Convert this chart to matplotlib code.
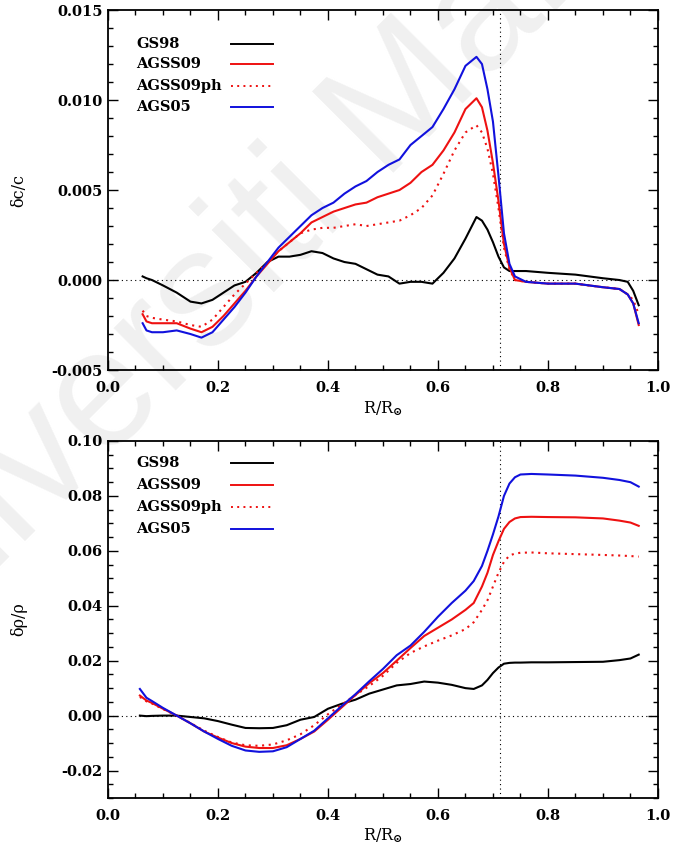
import matplotlib
matplotlib.use('Agg')
import matplotlib.pyplot as plt
from matplotlib.ticker import MultipleLocator

plt.rcParams['font.family'] = 'DejaVu Serif'
plt.rcParams['font.weight'] = 'bold'
plt.rcParams['mathtext.fontset'] = 'dejavuserif'

# sound speed differences, delta c / c
r_c = [0.063, 0.07, 0.08, 0.10, 0.125, 0.15, 0.17, 0.19, 0.21, 0.23, 0.25, 0.27,
       0.29, 0.31, 0.33, 0.35, 0.37, 0.39, 0.41, 0.43, 0.45, 0.47, 0.49, 0.51,
       0.53, 0.55, 0.57, 0.59, 0.61, 0.63, 0.65, 0.67, 0.68, 0.69, 0.70, 0.71,
       0.72, 0.73, 0.74, 0.76, 0.80, 0.85, 0.90, 0.93, 0.945, 0.955, 0.965]
dc_gs98 = [0.0002, 0.0001, 0.0000, -0.0003, -0.0007, -0.0012, -0.0013, -0.0011,
           -0.0007, -0.0003, -0.0001, 0.0004, 0.0010, 0.0013, 0.0013, 0.0014,
           0.0016, 0.0015, 0.0012, 0.0010, 0.0009, 0.0006, 0.0003, 0.0002,
           -0.0002, -0.0001, -0.0001, -0.0002, 0.0004, 0.0012, 0.0023, 0.0035,
           0.0033, 0.0028, 0.0021, 0.0013, 0.0007, 0.0005, 0.0005, 0.0005,
           0.0004, 0.0003, 0.0001, 0.0000, -0.0001, -0.0006, -0.0014]
dc_agss09 = [-0.0019, -0.0023, -0.0024, -0.0024, -0.0024, -0.0027, -0.0029, -0.0026,
             -0.0020, -0.0013, -0.0006, 0.0002, 0.0009, 0.0016, 0.0021, 0.0026,
             0.0032, 0.0035, 0.0038, 0.0040, 0.0042, 0.0043, 0.0046, 0.0048,
             0.0050, 0.0054, 0.0060, 0.0064, 0.0072, 0.0082, 0.0095, 0.0101,
             0.0096, 0.0083, 0.0065, 0.0044, 0.0020, 0.0007, 0.0000, -0.0001,
             -0.0002, -0.0002, -0.0004, -0.0005, -0.0008, -0.0013, -0.0025]
dc_agss09ph = [-0.0017, -0.0020, -0.0021, -0.0022, -0.0023, -0.0025, -0.0026, -0.0022,
               -0.0015, -0.0008, -0.0002, 0.0004, 0.0010, 0.0016, 0.0021, 0.0026,
               0.0028, 0.0029, 0.0029, 0.0030, 0.0031, 0.0030, 0.0031, 0.0032,
               0.0033, 0.0036, 0.0040, 0.0047, 0.0059, 0.0072, 0.0082, 0.0086,
               0.0082, 0.0073, 0.0059, 0.0040, 0.0018, 0.0006, 0.0000, -0.0001,
               -0.0002, -0.0002, -0.0004, -0.0005, -0.0008, -0.0011, -0.0019]
dc_ags05 = [-0.0024, -0.0028, -0.0029, -0.0029, -0.0028, -0.0030, -0.0032, -0.0029,
            -0.0022, -0.0015, -0.0007, 0.0002, 0.0010, 0.0018, 0.0024, 0.0030,
            0.0036, 0.0040, 0.0043, 0.0048, 0.0052, 0.0055, 0.0060, 0.0064,
            0.0067, 0.0075, 0.0080, 0.0085, 0.0095, 0.0106, 0.0119, 0.0124,
            0.0120, 0.0106, 0.0088, 0.0058, 0.0026, 0.0009, 0.0002, -0.0001,
            -0.0002, -0.0002, -0.0004, -0.0005, -0.0008, -0.0013, -0.0024]

# density differences, delta rho / rho
r_rho = [0.058, 0.07, 0.08, 0.10, 0.125, 0.15, 0.175, 0.20, 0.225, 0.25, 0.275,
         0.30, 0.325, 0.35, 0.375, 0.40, 0.425, 0.45, 0.475, 0.50, 0.525, 0.55,
         0.575, 0.60, 0.625, 0.65, 0.665, 0.68, 0.69, 0.70, 0.71, 0.72, 0.73,
         0.74, 0.75, 0.77, 0.80, 0.85, 0.90, 0.93, 0.95, 0.965]
drho_gs98 = [0.0000, -0.0002, -0.0001, 0.0000, 0.0000, -0.0005, -0.0010, -0.0020,
             -0.0033, -0.0045, -0.0046, -0.0045, -0.0035, -0.0015, -0.0005, 0.0025,
             0.0043, 0.0058, 0.0080, 0.0095, 0.0110, 0.0115, 0.0124, 0.0120,
             0.0112, 0.0100, 0.0097, 0.0110, 0.0130, 0.0155, 0.0175, 0.0189,
             0.0192, 0.0193, 0.0193, 0.0194, 0.0194, 0.0195, 0.0196, 0.0202,
             0.0208, 0.0222]
drho_agss09 = [0.0073, 0.0055, 0.0046, 0.0025, 0.0000, -0.0028, -0.0058, -0.0080,
               -0.0100, -0.0113, -0.0118, -0.0118, -0.0108, -0.0085, -0.0058, -0.0015,
               0.0030, 0.0075, 0.0118, 0.0155, 0.0200, 0.0246, 0.0290, 0.0320,
               0.0350, 0.0385, 0.0410, 0.0470, 0.0520, 0.0585, 0.0635, 0.0680,
               0.0705, 0.0718, 0.0723, 0.0724, 0.0723, 0.0722, 0.0718, 0.0710,
               0.0703, 0.0691]
drho_agss09ph = [0.0068, 0.0052, 0.0044, 0.0024, 0.0000, -0.0027, -0.0055, -0.0078,
                 -0.0098, -0.0108, -0.0110, -0.0105, -0.0090, -0.0068, -0.0035, 0.0005,
                 0.0040, 0.0075, 0.0108, 0.0145, 0.0192, 0.0228, 0.0252, 0.0273,
                 0.0292, 0.0315, 0.0340, 0.0385, 0.0420, 0.0470, 0.0520, 0.0560,
                 0.0583, 0.0590, 0.0593, 0.0594, 0.0591, 0.0588, 0.0585, 0.0583,
                 0.0581, 0.0579]
drho_ags05 = [0.0097, 0.0065, 0.0053, 0.0028, 0.0000, -0.0028, -0.0058, -0.0085,
              -0.0110, -0.0127, -0.0132, -0.0130, -0.0115, -0.0085, -0.0055, -0.0010,
              0.0035, 0.0078, 0.0125, 0.0170, 0.0220, 0.0255, 0.0305, 0.0360,
              0.0410, 0.0455, 0.0490, 0.0545, 0.0600, 0.0660, 0.0725, 0.0800,
              0.0845, 0.0868, 0.0878, 0.0880, 0.0878, 0.0874, 0.0866, 0.0858,
              0.0850, 0.0834]

names = ['GS98', 'AGSS09', 'AGSS09ph', 'AGS05']
colors = ['black', '#ee1111', '#ee1111', '#1111dd']
styles = ['-', '-', (0, (1, 2.2)), '-']
r_cz = 0.713  # base of the convection zone

fig = plt.figure(figsize=(6.74, 8.52), dpi=100)

# faint watermark across the page, behind both panels
fig.text(285 / 674, 1 - 220 / 852, 'Universiti Malaya', family='Liberation Sans',
         fontsize=120, fontweight='normal', color='#f0f0f0', rotation=45,
         ha='center', va='center', rotation_mode='anchor', zorder=-5)

ax1 = fig.add_axes([0.1602, 0.5657, 0.8160, 0.4225])
ax2 = fig.add_axes([0.1602, 0.0634, 0.8160, 0.4190])


def style_axes(ax, ymajor, yminor):
    ax.set_facecolor('none')
    ax.set_xlim(0.0, 1.0)
    ax.xaxis.set_major_locator(MultipleLocator(0.2))
    ax.xaxis.set_minor_locator(MultipleLocator(0.05))
    ax.yaxis.set_major_locator(MultipleLocator(ymajor))
    ax.yaxis.set_minor_locator(MultipleLocator(yminor))
    ax.tick_params(which='both', direction='in', top=True, right=True,
                   width=1.0, labelsize=10.5)
    ax.tick_params(which='major', length=7)
    ax.tick_params(which='minor', length=3.5)
    ax.tick_params(axis='x', pad=8)
    ax.tick_params(axis='y', pad=4)
    for sp in ax.spines.values():
        sp.set_linewidth(1.3)
    ax.axhline(0.0, color='black', lw=0.8, ls=(0, (1, 3)), zorder=1)
    ax.axvline(r_cz, color='black', lw=0.8, ls=(0, (1, 3)), zorder=1)
    ax.set_xlabel(r'R/R$_{\odot}$', fontsize=11.5)
    ax.xaxis.set_label_coords(0.5, -0.08)


def draw_key(ax, rows_y):
    # hand-placed key: names left, line samples lined up to the right
    for name, c, ls, y in zip(names, colors, styles, rows_y):
        ax.text(0.051, y, name, transform=ax.transAxes, fontsize=10.5,
                va='center', ha='left')
        ax.plot([0.224, 0.30], [y, y], transform=ax.transAxes, color=c,
                ls=ls, lw=1.4)


# top panel: sound speed
for y, c, ls in zip([dc_gs98, dc_agss09, dc_agss09ph, dc_ags05], colors, styles):
    ax1.plot(r_c, y, color=c, ls=ls, lw=1.5, zorder=3)
style_axes(ax1, 0.005, 0.001)
ax1.set_ylim(-0.005, 0.015)
ax1.yaxis.set_major_formatter(matplotlib.ticker.FormatStrFormatter('%.3f'))
ax1.set_ylabel('δc/c', fontsize=11.5, fontweight='normal')
ax1.yaxis.set_label_coords(-0.147, 0.5)
draw_key(ax1, [0.905, 0.849, 0.789, 0.730])

# bottom panel: density
for y, c, ls in zip([drho_gs98, drho_agss09, drho_agss09ph, drho_ags05], colors, styles):
    ax2.plot(r_rho, y, color=c, ls=ls, lw=1.5, zorder=3)
style_axes(ax2, 0.02, 0.005)
ax2.set_ylim(-0.03, 0.10)
ax2.yaxis.set_major_formatter(matplotlib.ticker.FormatStrFormatter('%.2f'))
ax2.set_ylabel('δρ/ρ', fontsize=11.5, fontweight='normal')
ax2.yaxis.set_label_coords(-0.147, 0.5)
draw_key(ax2, [0.938, 0.877, 0.815, 0.754])

fig.savefig('out.png', dpi=100)
